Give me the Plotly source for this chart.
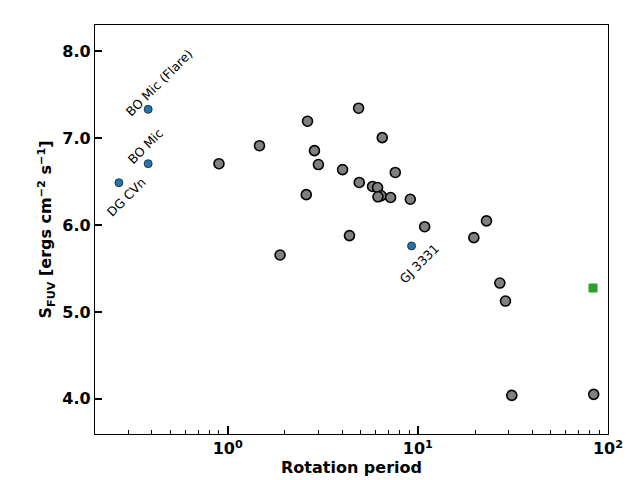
import math
import plotly.graph_objects as go

# sample stars (grey)
period = [0.90, 1.47, 2.63, 2.86, 3.0, 4.02, 2.59, 4.37, 1.886,
          4.88, 6.50, 7.61, 4.92, 5.78, 6.14, 6.42, 6.17, 7.19, 9.13,
          10.86, 22.96, 19.7, 27.0, 28.9, 31.2, 84.1]
s_fuv = [6.705, 6.912, 7.193, 6.855, 6.695, 6.637, 6.349, 5.878, 5.655,
         7.343, 7.005, 6.604, 6.489, 6.443, 6.431, 6.336, 6.324, 6.316, 6.296,
         5.98, 6.047, 5.855, 5.332, 5.125, 4.04, 4.052]

# labelled flare stars (blue)
named = ["BO Mic (Flare)", "BO Mic", "DG CVn", "GJ 3331"]
named_period = [0.382, 0.382, 0.268, 9.27]
named_s_fuv = [7.33, 6.705, 6.486, 5.759]
label_shift = [(11, 27), (-3, 17), (8, -14), (8, -18)]

# single highlighted target (green square)
target_period = [83.4]
target_s_fuv = [5.275]

fig = go.Figure()
fig.add_trace(go.Scatter(x=period, y=s_fuv, mode="markers",
                         marker=dict(size=10, color="#808080",
                                     line=dict(color="black", width=1.6)),
                         showlegend=False))
fig.add_trace(go.Scatter(x=named_period, y=named_s_fuv, mode="markers",
                         marker=dict(size=8, color="#1f77b4",
                                     line=dict(color="#1a1a1a", width=0.8)),
                         showlegend=False))
fig.add_trace(go.Scatter(x=target_period, y=target_s_fuv, mode="markers",
                         marker=dict(size=9, symbol="square", color="#2ca02c"),
                         showlegend=False))

# annotation x on a log axis is given in log10 units
for name, px_, py_, (dx, dy) in zip(named, named_period, named_s_fuv, label_shift):
    fig.add_annotation(x=math.log10(px_), y=py_, xref="x", yref="y", text=name,
                       showarrow=False, textangle=-45, xshift=dx, yshift=dy,
                       font=dict(family="DejaVu Sans", size=12.5, color="black"))

minor_vals = [m * 10 ** k for k in (-1, 0, 1) for m in range(2, 10)]

fig.update_xaxes(type="log", range=[-0.6976, 2.0],
                 tickvals=[1, 10, 100],
                 ticktext=["10<sup>0</sup>", "10<sup>1</sup>", "10<sup>2</sup>"],
                 ticks="inside", ticklen=8, tickwidth=1.5, tickcolor="black",
                 minor=dict(tickvals=minor_vals, ticks="inside", ticklen=4,
                            tickwidth=1.2, tickcolor="black"),
                 showgrid=False, zeroline=False,
                 showline=True, linecolor="black", linewidth=1.2, mirror=True,
                 tickfont=dict(family="DejaVu Sans", size=16, weight="bold", color="black"),
                 title=dict(text="Rotation period", standoff=4,
                            font=dict(family="DejaVu Sans", size=16, weight="bold", color="black")))
fig.update_yaxes(range=[3.596, 8.30],
                 tickvals=[4.0, 5.0, 6.0, 7.0, 8.0],
                 ticktext=["4.0", "5.0", "6.0", "7.0", "8.0"],
                 ticks="inside", ticklen=7, tickwidth=1.5, tickcolor="black",
                 showgrid=False, zeroline=False,
                 showline=True, linecolor="black", linewidth=1.2, mirror=True,
                 tickfont=dict(family="DejaVu Sans", size=16, weight="bold", color="black"),
                 title=dict(text="S<sub>FUV</sub> [ergs cm<sup>\u22122</sup> s<sup>\u22121</sup>]",
                            standoff=6,
                            font=dict(family="DejaVu Sans", size=16, weight="bold", color="black")))

fig.update_layout(width=640, height=480,
                  margin=dict(l=87, r=40, t=17, b=54),
                  plot_bgcolor="white", paper_bgcolor="white")

fig.write_html("out.html")
